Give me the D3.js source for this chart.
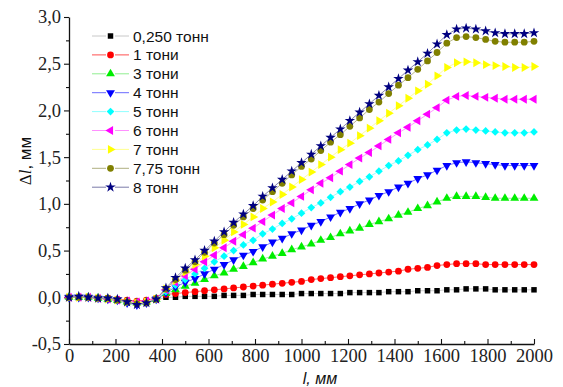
<!DOCTYPE html>
<html>
<head>
<meta charset="utf-8">
<script src="https://cdn.jsdelivr.net/npm/d3@7"></script>
<style>
  body { margin: 0; background: #fff; }
  svg { display: block; }
  .tick text { font-family: "Liberation Serif", "Times New Roman", serif; }
</style>
</head>
<body>
<svg id="chart"></svg>
<script>
// lengths along the sample, mm (49 measuring points)
var lengths = [0, 42, 83, 125, 167, 208, 250, 292, 333, 375, 417, 458, 500, 542, 583, 625, 667,
  708, 750, 792, 833, 875, 917, 958, 1000, 1042, 1083, 1125, 1167, 1208, 1250, 1292, 1333,
  1375, 1417, 1458, 1500, 1542, 1583, 1625, 1667, 1708, 1750, 1792, 1833, 1875, 1917, 1958, 2000];

// series names (legend)
var names = ["0,250 тонн", "1 тони", "3 тони", "4 тонн", "5 тонн", "6 тонн", "7 тонн", "7,75 тонн", "8 тонн"];

// Δl values, mm
var t025 = [0, 0, 0, -0.01, -0.02, -0.04, -0.06, -0.07, -0.06, -0.03,
  0.00, 0.00, 0.01, 0.01, 0.01, 0.01, 0.02, 0.02, 0.02, 0.03, 0.03, 0.03, 0.03, 0.03, 0.04,
  0.04, 0.04, 0.04, 0.04, 0.05, 0.05, 0.05, 0.05, 0.06, 0.06, 0.06, 0.07, 0.07, 0.07, 0.08,
  0.08, 0.09, 0.09, 0.09, 0.08, 0.08, 0.08, 0.08, 0.08];
var t1 = [0, 0, 0, -0.01, -0.01, -0.02, -0.03, -0.04, -0.03, -0.01,
  0.03, 0.04, 0.05, 0.06, 0.07, 0.08, 0.09, 0.10, 0.11, 0.12, 0.13, 0.14, 0.15, 0.16, 0.17,
  0.19, 0.20, 0.21, 0.22, 0.23, 0.24, 0.25, 0.26, 0.27, 0.28, 0.30, 0.31, 0.32, 0.34, 0.35,
  0.36, 0.36, 0.36, 0.35, 0.35, 0.35, 0.35, 0.35, 0.35];
var t3 = [0, 0, 0, -0.01, -0.02, -0.03, -0.05, -0.06, -0.05, -0.02,
  0.04, 0.08, 0.12, 0.15, 0.19, 0.23, 0.26, 0.30, 0.33, 0.37, 0.41, 0.44, 0.47, 0.51, 0.54,
  0.57, 0.61, 0.64, 0.68, 0.71, 0.74, 0.78, 0.81, 0.84, 0.88, 0.91, 0.95, 0.98, 1.02, 1.06,
  1.08, 1.08, 1.08, 1.07, 1.06, 1.06, 1.06, 1.06, 1.06];
var t4 = [0, 0, 0, -0.01, -0.02, -0.03, -0.06, -0.08, -0.06, -0.02,
  0.05, 0.11, 0.16, 0.20, 0.25, 0.30, 0.35, 0.40, 0.45, 0.49, 0.54, 0.59, 0.63, 0.68, 0.72,
  0.77, 0.81, 0.86, 0.91, 0.95, 1.00, 1.04, 1.09, 1.13, 1.18, 1.22, 1.27, 1.31, 1.36, 1.41,
  1.44, 1.45, 1.44, 1.43, 1.42, 1.41, 1.41, 1.41, 1.41];
var t5 = [0, 0, 0, -0.01, -0.01, -0.03, -0.05, -0.06, -0.05, -0.02,
  0.06, 0.13, 0.19, 0.25, 0.31, 0.38, 0.44, 0.50, 0.56, 0.61, 0.68, 0.73, 0.79, 0.84, 0.90,
  0.96, 1.01, 1.07, 1.13, 1.18, 1.24, 1.29, 1.35, 1.41, 1.46, 1.52, 1.58, 1.63, 1.69, 1.76,
  1.79, 1.80, 1.79, 1.78, 1.77, 1.76, 1.76, 1.76, 1.77];
var t6 = [0, 0, 0, -0.01, -0.02, -0.03, -0.04, -0.05, -0.04, -0.02,
  0.08, 0.16, 0.23, 0.30, 0.38, 0.45, 0.53, 0.60, 0.67, 0.74, 0.81, 0.88, 0.95, 1.01, 1.08,
  1.15, 1.22, 1.28, 1.35, 1.42, 1.49, 1.55, 1.62, 1.69, 1.76, 1.82, 1.89, 1.96, 2.03, 2.11,
  2.15, 2.16, 2.15, 2.14, 2.13, 2.12, 2.12, 2.12, 2.12];
var t7 = [0, 0, 0, -0.01, -0.02, -0.03, -0.05, -0.06, -0.05, -0.02,
  0.09, 0.18, 0.27, 0.35, 0.44, 0.53, 0.61, 0.70, 0.78, 0.86, 0.95, 1.02, 1.10, 1.18, 1.26,
  1.34, 1.42, 1.50, 1.58, 1.65, 1.73, 1.81, 1.89, 1.97, 2.05, 2.13, 2.21, 2.28, 2.37, 2.46,
  2.51, 2.52, 2.51, 2.49, 2.48, 2.47, 2.46, 2.46, 2.47];
var t775 = [0, 0, 0, -0.01, -0.01, -0.03, -0.05, -0.07, -0.06, -0.02,
  0.09, 0.19, 0.29, 0.38, 0.48, 0.58, 0.67, 0.77, 0.86, 0.95, 1.04, 1.13, 1.22, 1.31, 1.40,
  1.48, 1.57, 1.66, 1.74, 1.83, 1.92, 2.01, 2.09, 2.18, 2.27, 2.35, 2.44, 2.53, 2.62, 2.72,
  2.78, 2.79, 2.78, 2.76, 2.74, 2.73, 2.73, 2.73, 2.74];
var t8 = [0, 0.01, 0, -0.01, -0.01, -0.02, -0.05, -0.08, -0.06, -0.02,
  0.10, 0.21, 0.31, 0.40, 0.50, 0.60, 0.70, 0.80, 0.89, 0.98, 1.08, 1.17, 1.26, 1.35, 1.44,
  1.53, 1.62, 1.71, 1.80, 1.89, 1.98, 2.07, 2.16, 2.25, 2.34, 2.43, 2.52, 2.61, 2.71, 2.81,
  2.87, 2.88, 2.87, 2.85, 2.83, 2.82, 2.82, 2.82, 2.83];

var xTicks = [0, 200, 400, 600, 800, 1000, 1200, 1400, 1600, 1800, 2000];
var yTicks = [-0.5, 0, 0.5, 1.0, 1.5, 2.0, 2.5, 3.0];

var allSeries = [t025, t1, t3, t4, t5, t6, t7, t775, t8];
var colors = ["#000000", "#ff0000", "#00ee00", "#0000ff", "#00ffff", "#ff00ff", "#ffff00", "#808000", "#000080"];
var lineColors = ["#c8c8c8", "#ff5050", "#90ee90", "#6a6aff", "#90ffff", "#ff90ff", "#ffff90", "#b0b080", "#7a7aa8"];
// marker: symbol + rotation
var markers = [
  { s: d3.symbolSquare, r: 0, size: 30 },
  { s: d3.symbolCircle, r: 0, size: 36 },
  { s: d3.symbolTriangle, r: 0, size: 34 },
  { s: d3.symbolTriangle, r: 180, size: 34 },
  { s: d3.symbolSquare, r: 45, size: 30 },
  { s: d3.symbolTriangle, r: -90, size: 34 },
  { s: d3.symbolTriangle, r: 90, size: 34 },
  { s: d3.symbolCircle, r: 0, size: 36 },
  { s: d3.symbolStar, r: 0, size: 34 }
];

var W = 563, H = 387;
var margin = { top: 17, right: 29, bottom: 43, left: 69 };

var svg = d3.select("#chart").attr("width", W).attr("height", H);

var x = d3.scaleLinear().domain([0, 2000]).range([margin.left, W - margin.right]);
var y = d3.scaleLinear().domain([-0.5, 3.0]).range([H - margin.bottom, margin.top]);

var comma = function (v) { return d3.format(".1f")(v).replace(".", ",").replace("−", "-"); };

// minor ticks first
svg.append("g")
  .attr("transform", "translate(0," + y(-0.5) + ")")
  .call(d3.axisBottom(x).tickValues(d3.range(100, 2000, 200)).tickSize(-3).tickFormat(""))
  .call(function (g) { g.select(".domain").remove(); });
svg.append("g")
  .attr("transform", "translate(" + margin.left + ",0)")
  .call(d3.axisLeft(y).tickValues([-0.25, 0.25, 0.75, 1.25, 1.75, 2.25, 2.75]).tickSize(3).tickFormat(""))
  .call(function (g) { g.select(".domain").remove(); });

var xAxis = svg.append("g")
  .attr("transform", "translate(0," + y(-0.5) + ")")
  .call(d3.axisBottom(x).tickValues(xTicks).tickSize(-5).tickPadding(5).tickSizeOuter(0).tickFormat(d3.format("d")));
var yAxis = svg.append("g")
  .attr("transform", "translate(" + margin.left + ",0)")
  .call(d3.axisLeft(y).tickValues(yTicks).tickSize(5).tickPadding(3).tickSizeOuter(0).tickFormat(comma));

svg.selectAll(".domain").attr("stroke", "#111").attr("stroke-width", 1.3);
svg.selectAll(".tick line").attr("stroke", "#111").attr("stroke-width", 1.1);
svg.selectAll(".tick text")
  .style("font-family", "'Liberation Serif', 'Times New Roman', serif")
  .style("font-size", "18.5px")
  .attr("fill", "#222");

// series
var lineGen = d3.line()
  .x(function (d) { return x(d[0]); })
  .y(function (d) { return y(d[1]); });

allSeries.forEach(function (vals, k) {
  var pts = lengths.map(function (l, i) { return [l, vals[i]]; });
  var g = svg.append("g");
  g.append("path")
    .attr("d", lineGen(pts))
    .attr("fill", "none")
    .attr("stroke", lineColors[k])
    .attr("stroke-width", 0.9);
  g.selectAll("path.m")
    .data(pts)
    .enter()
    .append("path")
    .attr("class", "m")
    .attr("d", d3.symbol().type(markers[k].s).size(markers[k].size))
    .attr("transform", function (d) {
      return "translate(" + x(d[0]) + "," + y(d[1]) + ") rotate(" + markers[k].r + ")";
    })
    .attr("fill", colors[k]);
});

// legend
var legend = svg.append("g").attr("transform", "translate(92,36)");
names.forEach(function (n, k) {
  var row = legend.append("g").attr("transform", "translate(0," + (k * 18.9) + ")");
  row.append("line").attr("x1", 0).attr("x2", 37).attr("y1", 0).attr("y2", 0)
    .attr("stroke", lineColors[k]).attr("stroke-width", 1);
  row.append("rect").attr("x", 14).attr("y", -4).attr("width", 9).attr("height", 8).attr("fill", "#fff");
  row.append("path")
    .attr("d", d3.symbol().type(markers[k].s).size(markers[k].size))
    .attr("transform", "translate(18.5,0) rotate(" + markers[k].r + ")")
    .attr("fill", colors[k]);
  row.append("text")
    .attr("x", 41).attr("y", 5.5)
    .attr("font-family", "'Liberation Sans', Arial, sans-serif")
    .attr("font-size", 15.5)
    .attr("fill", "#111")
    .text(n);
});

// axis titles
var yt = svg.append("text")
  .attr("transform", "translate(31,161) rotate(-90)")
  .attr("text-anchor", "middle")
  .attr("font-size", 17)
  .attr("fill", "#111");
yt.append("tspan").attr("font-family", "'Liberation Serif', serif").text("Δ");
yt.append("tspan").attr("font-family", "'Liberation Serif', serif").attr("font-style", "italic").text("l");
yt.append("tspan").attr("font-family", "'Liberation Sans', Arial, sans-serif").text(", мм");

svg.append("text")
  .attr("x", 320).attr("y", 384)
  .attr("text-anchor", "middle")
  .attr("font-family", "'Liberation Sans', Arial, sans-serif")
  .attr("font-style", "italic")
  .attr("font-size", 16)
  .attr("fill", "#111")
  .text("l, мм");
</script>
</body>
</html>
